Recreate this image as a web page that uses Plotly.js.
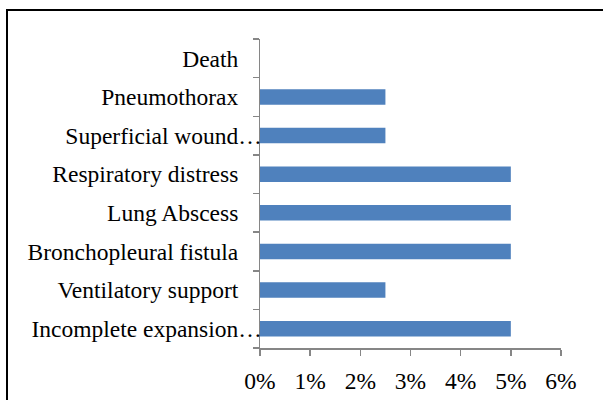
<!DOCTYPE html>
<html>
<head>
<meta charset="utf-8">
<script src="https://cdn.plot.ly/plotly-3.0.1.min.js"></script>
<style>
html, body { margin: 0; padding: 0; background: #ffffff; overflow: hidden; }
#wrap { position: relative; width: 603px; height: 400px; overflow: hidden; }
#chart { width: 603px; height: 400px; }
#frame { position: absolute; left: 6px; top: 9px; width: 800px; height: 600px;
         border-left: 2px solid #000; border-top: 2px solid #000; pointer-events: none; }
</style>
</head>
<body>
<div id="wrap"><div id="chart"></div><div id="frame"></div></div>
<script>
// Categories listed top to bottom
const categories = [
  "Death",
  "Pneumothorax",
  "Superficial wound…",
  "Respiratory distress",
  "Lung Abscess",
  "Bronchopleural fistula",
  "Ventilatory support",
  "Incomplete expansion…"
];
const values = [0, 0.025, 0.025, 0.05, 0.05, 0.05, 0.025, 0.05];
const xTickValues = [0, 0.01, 0.02, 0.03, 0.04, 0.05, 0.06];
const xTickLabels = ["0%", "1%", "2%", "3%", "4%", "5%", "6%"];

// truncated labels let their ellipsis hang past the common right edge
const NBSP = "\u00a0";
const yTickText = categories.map(c => c.endsWith("…") ? c : c + NBSP.repeat(4));

const font = { family: "Liberation Serif, Times New Roman, serif", size: 23.5, color: "#000000" };

const trace = {
  type: "bar",
  orientation: "h",
  y: categories,
  x: values,
  marker: { color: "#4F81BD", line: { width: 0 } },
  hoverinfo: "x+y"
};

const layout = {
  width: 603,
  height: 400,
  margin: { l: 260, r: 42, t: 39, b: 52 },
  paper_bgcolor: "#ffffff",
  plot_bgcolor: "#ffffff",
  showlegend: false,
  bargap: 0.6,
  font: font,
  xaxis: {
    range: [0, 0.06],
    tickvals: xTickValues,
    ticktext: xTickLabels,
    showgrid: false,
    zeroline: false,
    showline: true,
    linecolor: "#868686",
    linewidth: 1.5,
    ticks: "outside",
    ticklen: 6,
    tickcolor: "#868686",
    tickwidth: 1.5,
    ticklabelstandoff: 5,
    tickfont: font,
    fixedrange: true
  },
  yaxis: {
    type: "category",
    autorange: "reversed",
    tickvals: categories,
    ticktext: yTickText,
    showgrid: false,
    zeroline: false,
    showline: true,
    linecolor: "#868686",
    linewidth: 1.5,
    ticks: "outside",
    tickson: "boundaries",
    ticklen: 6,
    tickcolor: "#868686",
    tickwidth: 1.5,
    ticklabelstandoff: -8,
    tickfont: font,
    fixedrange: true
  }
};

Plotly.newPlot("chart", [trace], layout, { displayModeBar: false, staticPlot: true });
</script>
</body>
</html>
